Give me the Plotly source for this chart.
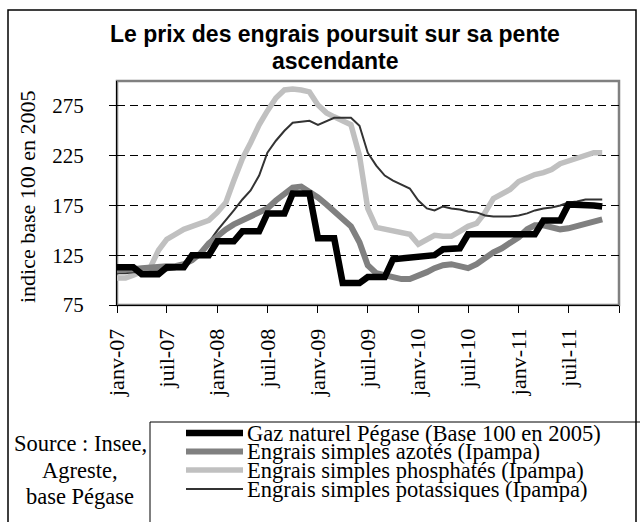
import plotly.graph_objects as go
import pandas as pd

# ---- data (monthly, janv-2007 .. nov-2011) ----
months = pd.date_range("2007-01-01", periods=59, freq="MS").strftime("%Y-%m-%d").tolist()

gaz = [113, 113, 113, 106, 106, 106, 113, 113, 113, 125, 125, 125,
       139, 139, 139, 149, 149, 149, 167, 167, 167, 187, 187, 187,
       142, 142, 142, 97, 97, 97, 103, 103, 103, 121, 122, 122,
       123, 125, 125, 131, 132, 132, 146, 146, 146, 146, 146, 146,
       146, 146, 146, 160, 160, 160, 176, 176, 176, 175, 174]

azotes = [110, 110, 111, 112, 113, 113, 114, 114, 116, 120, 127, 137,
          145, 151, 156, 160, 164, 168, 172, 180, 187, 193, 194, 189,
          183, 176, 169, 163, 154, 138, 115, 107, 105, 103, 101, 101,
          104, 108, 112, 115, 116, 114, 112, 116, 122, 128, 132, 137,
          143, 151, 155, 155, 153, 151, 152, 154, 156, 159, 161]

phosphates = [102, 102, 105, 108, 112, 130, 141, 146, 151, 154, 157, 160,
              168, 178, 200, 222, 238, 256, 270, 283, 291, 292, 291, 289,
              276, 268, 264, 260, 256, 225, 172, 153, 151, 150, 148, 146,
              136, 140, 145, 144, 144, 149, 154, 157, 168, 182, 187, 191,
              199, 203, 206, 208, 211, 217, 220, 222, 225, 228, 228]

potassiques = [107, 107, 108, 108, 109, 109, 110, 111, 114, 120, 128, 138,
               150, 160, 170, 181, 190, 205, 228, 240, 250, 258, 259, 260,
               256, 260, 263, 263, 263, 255, 228, 215, 205, 200, 196, 192,
               180, 172, 170, 174, 172, 171, 169, 168, 165, 164, 164, 164,
               165, 167, 170, 172, 173, 175, 178, 179, 181, 181, 181]

series_names = ["Gaz naturel Pégase (Base 100 en 2005)",
                "Engrais simples azotés (Ipampa)",
                "Engrais simples phosphatés (Ipampa)",
                "Engrais simples potassiques (Ipampa)"]
series_values = [gaz, azotes, phosphates, potassiques]
series_colors = ["#000000", "#808080", "#c0c0c0", "#333333"]
series_widths = [6.5, 6, 5.5, 2]

tick_dates = ["2007-01-01", "2007-07-01", "2008-01-01", "2008-07-01", "2009-01-01",
              "2009-07-01", "2010-01-01", "2010-07-01", "2011-01-01", "2011-07-01",
              "2012-01-01"]
tick_labels = ["janv-07", "juil-07", "janv-08", "juil-08", "janv-09",
               "juil-09", "janv-10", "juil-10", "janv-11", "juil-11", ""]
y_ticks = [75, 125, 175, 225, 275]

title_lines = ["Le prix des engrais poursuit sur sa pente", "ascendante"]
source_lines = ["Source : Insee,", "Agreste,", "base Pégase"]
y_title = "indice base 100 en 2005"

W, H = 640, 522
L, R, T, B = 117, 21, 81, 217
PW, PH = W - L - R, H - T - B

def px(x):
    return (x - L) / PW

def py(y):
    return (H - B - y) / PH

SERIF = "Liberation Serif, Times New Roman, serif"
SANS = "Liberation Sans, Arial, sans-serif"

fig = go.Figure()
# draw order: phosphates, potassiques, azotes, gaz on top
for i in [2, 3, 1, 0]:
    fig.add_trace(go.Scatter(
        x=months, y=series_values[i], mode="lines", name=series_names[i],
        line=dict(color=series_colors[i], width=series_widths[i]),
        showlegend=False))

shapes = []
shapes.append(dict(type="rect", xref="paper", yref="paper", x0=0, x1=1, y0=0, y1=1,
                   line=dict(color="#808080", width=2.5), layer="below"))
shapes.append(dict(type="rect", xref="paper", yref="paper",
                   x0=px(8), x1=px(636), y0=py(10), y1=py(540),
                   line=dict(color="#000000", width=1.5), layer="below"))
shapes.append(dict(type="rect", xref="paper", yref="paper",
                   x0=px(150), x1=px(660), y0=py(422), y1=py(540),
                   line=dict(color="#000000", width=1), layer="below"))

annotations = []
row_y = [433, 451.5, 470, 489]
for i in range(4):
    shapes.append(dict(type="line", xref="paper", yref="paper",
                       x0=px(186), x1=px(243), y0=py(row_y[i]), y1=py(row_y[i]),
                       line=dict(color=series_colors[i], width=series_widths[i])))
    annotations.append(dict(xref="paper", yref="paper", x=px(245), y=py(row_y[i]),
                            xanchor="left", yanchor="middle", showarrow=False,
                            text=series_names[i],
                            font=dict(family=SERIF, size=22.5, color="black")))

for txt, yy in zip(source_lines, [443, 470, 496]):
    annotations.append(dict(xref="paper", yref="paper", x=px(80), y=py(yy),
                            xanchor="center", yanchor="middle", showarrow=False,
                            text=txt, font=dict(family=SERIF, size=22.5, color="black")))

annotations.append(dict(xref="paper", yref="paper", x=px(27), y=py(197),
                        xanchor="center", yanchor="middle", showarrow=False,
                        textangle=-90, text=y_title,
                        font=dict(family=SERIF, size=22, color="black")))

for txt, yy in zip(title_lines, [34, 61]):
    annotations.append(dict(xref="paper", yref="paper", x=px(335), y=py(yy),
                            xanchor="center", yanchor="middle", showarrow=False,
                            text="<b>" + txt + "</b>",
                            font=dict(family=SANS, size=23, color="black")))

fig.update_layout(
    width=W, height=H,
    margin=dict(l=L, r=R, t=T, b=B, pad=0),
    paper_bgcolor="white", plot_bgcolor="white",
    shapes=shapes, annotations=annotations,
    showlegend=False,
    xaxis=dict(type="date", range=["2007-01-01", "2012-01-01"],
               tickmode="array", tickvals=tick_dates, ticktext=tick_labels,
               tickangle=-90, ticks="outside", ticklen=7, tickcolor="black",
               showline=True, linecolor="black", linewidth=1,
               showgrid=False, zeroline=False,
               tickfont=dict(family=SERIF, size=22, color="black"),
               ticklabelstandoff=7),
    yaxis=dict(range=[75, 300], tickmode="array", tickvals=y_ticks,
               ticks="outside", ticklen=7, tickcolor="black",
               showline=True, linecolor="black", linewidth=1,
               showgrid=True, gridcolor="black", gridwidth=1, griddash="8px,5px",
               zeroline=False,
               tickfont=dict(family=SERIF, size=21, color="black"),
               ticklabelstandoff=21),
)

fig.write_html("out.html",
               config={"displayModeBar": False, "staticPlot": True},
               post_script="document.body.style.margin='0';document.body.style.overflow='hidden';")
